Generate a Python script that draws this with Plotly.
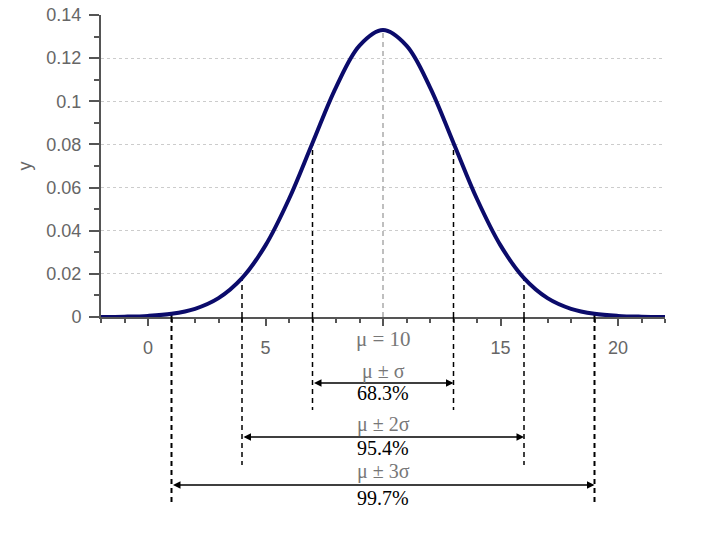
import plotly.graph_objects as go

# Normal curve, mu = 10, sigma = 3
x_vals = list(range(-2, 23))
y_vals = [0.0000446, 0.000160, 0.000514, 0.00148, 0.00380, 0.00874, 0.0180,
          0.0332, 0.0547, 0.0807, 0.1065, 0.1258, 0.1330, 0.1258, 0.1065,
          0.0807, 0.0547, 0.0332, 0.0180, 0.00874, 0.00380, 0.00148,
          0.000514, 0.000160, 0.0000446]
mu = 10
peak = 0.1330
band_lo = [7, 4, 1]
band_hi = [13, 16, 19]
band_y = [0.0807, 0.0180, 0.00148]
band_names = ["μ ± σ", "μ ± 2σ", "μ ± 3σ"]
band_pcts = ["68.3%", "95.4%", "99.7%"]

x_tickvals = [0, 5, 10, 15, 20]
x_ticktext = ["0", "5", "", "15", "20"]
mu_label = "μ = 10"
y_tickvals = [0, 0.02, 0.04, 0.06, 0.08, 0.1, 0.12, 0.14]
y_ticktext = ["0", "0.02", "0.04", "0.06", "0.08", "0.1", "0.12", "0.14"]

# layout positions (paper fractions below the axis)
arrow_py = [-0.2185, -0.397, -0.556]
bottom_py = [-0.308, -0.490, -0.623]
name_py = [-0.180, -0.357, -0.511]
pct_py = [-0.250, -0.435, -0.598]
line_w = [1.5, 1.5, 2]

SERIF = "Liberation Serif"

fig = go.Figure()

# mu line
fig.add_trace(go.Scatter(x=[mu, mu], y=[0, peak], mode="lines",
                         line=dict(color="#aaaaaa", width=1.5, dash="5px,4px"),
                         hoverinfo="skip", showlegend=False))

shapes = []
annotations = [dict(xref="x", yref="paper", x=mu, y=-0.073, text=mu_label,
                    showarrow=False, yanchor="middle", borderpad=0,
                    font=dict(family=SERIF, size=21, color="#777777"))]
for i in range(3):
    for xv in (band_lo[i], band_hi[i]):
        fig.add_trace(go.Scatter(x=[xv, xv], y=[0, band_y[i]], mode="lines",
                                 line=dict(color="black", width=line_w[i], dash="5px,4px"),
                                 hoverinfo="skip", showlegend=False))
        shapes.append(dict(type="line", xref="x", yref="paper", x0=xv, x1=xv,
                           y0=0, y1=bottom_py[i],
                           line=dict(color="black", width=line_w[i], dash="5px,4px")))
    annotations.append(dict(xref="x", yref="paper", x=band_hi[i], y=arrow_py[i],
                            axref="x", ayref="pixel", ax=band_lo[i], ay=0,
                            text="", showarrow=True, arrowhead=2, startarrowhead=2,
                            arrowside="end+start", arrowsize=1, arrowwidth=1.5,
                            arrowcolor="black", standoff=0, startstandoff=0))
    mid = (band_lo[i] + band_hi[i]) / 2
    annotations.append(dict(xref="x", yref="paper", x=mid, y=name_py[i],
                            text=band_names[i], showarrow=False, yanchor="middle",
                            borderpad=0,
                            font=dict(family=SERIF, size=20, color="#777777")))
    annotations.append(dict(xref="x", yref="paper", x=mid, y=pct_py[i],
                            text=band_pcts[i], showarrow=False, yanchor="middle",
                            borderpad=0,
                            font=dict(family=SERIF, size=20, color="black")))

# curve
fig.add_trace(go.Scatter(x=x_vals, y=y_vals, mode="lines", line_shape="spline",
                         line=dict(color="#0b0b6b", width=4),
                         hoverinfo="skip", showlegend=False))

fig.update_layout(
    width=704, height=534,
    margin=dict(l=101, r=39, t=15, b=217),
    paper_bgcolor="white", plot_bgcolor="white",
    font=dict(family="Liberation Sans", size=18, color="#666666"),
    shapes=shapes, annotations=annotations,
    xaxis=dict(range=[-2, 22], tickvals=x_tickvals, ticktext=x_ticktext,
               ticks="outside", ticklen=7, tickwidth=2, tickcolor="#555555",
               showline=True, linecolor="#555555", linewidth=2,
               showgrid=False, zeroline=False, ticklabelstandoff=6,
               ticklabeloverflow="allow",
               minor=dict(dtick=1, ticks="outside", ticklen=4, tickwidth=1.5,
                          tickcolor="#555555", showgrid=False),
               tickfont=dict(size=18, color="#666666"), automargin=False),
    yaxis=dict(range=[0, 0.14], tickvals=y_tickvals, ticktext=y_ticktext,
               ticks="outside", ticklen=10, tickwidth=2, tickcolor="#555555",
               showline=True, linecolor="#555555", linewidth=2,
               showgrid=True, gridcolor="#cccccc", griddash="dot", gridwidth=1,
               zeroline=False, ticklabelstandoff=4, ticklabeloverflow="allow",
               minor=dict(dtick=0.01, ticks="outside", ticklen=5, tickwidth=1.5,
                          tickcolor="#555555", showgrid=False),
               title=dict(text="y", standoff=10, font=dict(size=18, color="#666666")),
               tickfont=dict(size=18, color="#666666"), automargin=False),
)

fig.write_html("out.html", config={"displayModeBar": False},
               post_script="document.body.style.margin='0';document.body.style.padding='0';")
